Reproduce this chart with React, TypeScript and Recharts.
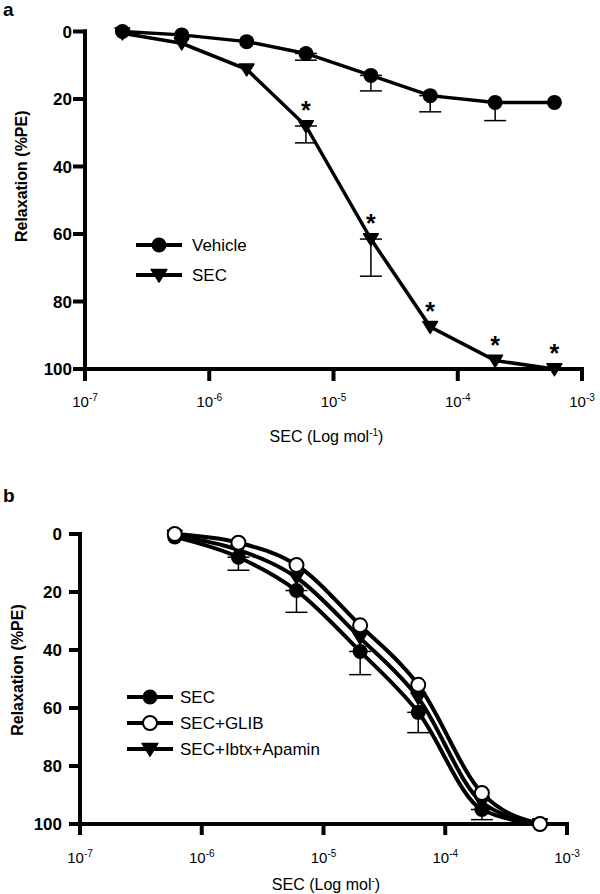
import { LineChart, Line, XAxis, YAxis, ErrorBar, Legend, LabelList, Label } from "recharts"

const FONT = '"Liberation Sans", Arial, sans-serif'

// shared axes
const decadeTicks = [1e-7, 1e-6, 1e-5, 1e-4, 1e-3]
const relaxTicks = [0, 20, 40, 60, 80, 100]

// panel a: concentration (mol) and relaxation (%PE), mean and SEM
const concA = [2e-7, 6e-7, 2e-6, 6e-6, 2e-5, 6e-5, 2e-4, 6e-4]
const vehicleMean = [0, 1, 3, 6.5, 13, 19, 21, 21]
const vehicleSem = [0, 0, 0, 2, 4.6, 4.8, 5.4, 0]
const secMeanA = [0.5, 3.5, 11.2, 28, 61.5, 87.5, 97.5, 100]
const secSemA = [0, 0, 0, 5, 11, 0, 0, 0]
const secSigA = ["", "", "", "*", "*", "*", "*", "*"]

// panel b
const concB = [6e-7, 2e-6, 6e-6, 2e-5, 6e-5, 2e-4, 6e-4]
const secMeanB = [1, 8, 19.5, 40.5, 61.5, 95, 100]
const secSemB = [0, 4.5, 7.5, 8, 7, 3.5, 0]
const glibMeanB = [0, 3, 10.7, 31.5, 52, 89.3, 100]
const ibtxMeanB = [0.5, 5.5, 15, 35.8, 56.5, 92.5, 100]

// one-sided bars (drawn below the point only); none when SEM is 0
const oneSided = (sem: number) => (sem > 0 ? [0, sem] : null)

const dataA = concA.map((c, i) => ({
    conc: c,
    vehicle: vehicleMean[i],
    vehicleErr: oneSided(vehicleSem[i]),
    sec: secMeanA[i],
    secErr: oneSided(secSemA[i]),
    sig: secSigA[i],
}))

const dataB = concB.map((c, i) => ({
    conc: c,
    sec: secMeanB[i],
    secErr: oneSided(secSemB[i]),
    glib: glibMeanB[i],
    ibtx: ibtxMeanB[i],
}))

type MarkerKind = "circle" | "open" | "triangle"

const markerOf: Record<string, MarkerKind> = {
    Vehicle: "circle",
    SEC: "triangle",
    "SEC ": "circle",
    "SEC+GLIB": "open",
    "SEC+Ibtx+Apamin": "triangle",
}

const Marker = ({ kind, cx, cy, r }: { kind: MarkerKind; cx: number; cy: number; r: number }) => {
    if (kind === "triangle") {
        const w = r * 1.05
        return (
            <path
                d={`M${cx - w},${cy - r * 0.75} L${cx + w},${cy - r * 0.75} L${cx},${cy + r * 0.95} Z`}
                fill="#000"
                stroke="#000"
                strokeWidth={1.5}
                strokeLinejoin="round"
            />
        )
    }
    if (kind === "open") {
        return <circle cx={cx} cy={cy} r={r - 0.5} fill="#fff" stroke="#000" strokeWidth={2} />
    }
    return <circle cx={cx} cy={cy} r={r} fill="#000" />
}

const dotFor = (kind: MarkerKind, r: number) => (p: any) => (
    <Marker key={`${kind}-${p.index}`} kind={kind} cx={p.cx} cy={p.cy} r={r} />
)

// x tick "10^n"
const powTick = (shift: number) => (p: any) => {
    const exp = Math.round(Math.log10(p.payload.value))
    return (
        <text x={p.x} y={p.y + shift} textAnchor="middle" fontSize={15} fontFamily={FONT} fill="#000">
            10
            <tspan dy={-6} fontSize={10}>{exp}</tspan>
        </text>
    )
}

const relaxTick = (p: any) => (
    <text x={p.x} y={p.y} dy="0.36em" textAnchor="end" fontSize={17} fontWeight="bold" fontFamily={FONT} fill="#000">
        {p.payload.value}
    </text>
)

const yTitle = (dx: number, shift: number) => (p: any) => {
    const vb = p.viewBox
    const x = vb.x + dx
    const y = vb.y + vb.height / 2 + shift
    return (
        <text
            x={x}
            y={y}
            dy="0.36em"
            transform={`rotate(-90 ${x} ${y})`}
            textAnchor="middle"
            fontSize={16}
            fontWeight="bold"
            fontFamily={FONT}
            fill="#000"
        >
            Relaxation (%PE)
        </text>
    )
}

const xTitle = (sup: string, dx: number, base: number) => (p: any) => {
    const vb = p.viewBox
    return (
        <text x={vb.x + vb.width / 2 + dx} y={vb.y + base} textAnchor="middle" fontSize={16} fontFamily={FONT} fill="#000">
            SEC (Log mol
            <tspan dy={-6} fontSize={10}>{sup}</tspan>
            <tspan dy={6}>)</tspan>
        </text>
    )
}

const starLabel = (p: any) => {
    if (!p.value) return null
    return (
        <text x={p.x} y={p.y - 7} textAnchor="middle" fontSize={25} fontWeight="bold" fontFamily={FONT} fill="#000">
            {p.value}
        </text>
    )
}

const legendContent = (order: string[], rowH: number, gap: number) => (props: any) => {
    const payload: any[] = props.payload || []
    const items = order.map((n) => payload.find((e) => e.value === n)).filter(Boolean)
    return (
        <div style={{ fontFamily: FONT, fontSize: 17, color: "#000" }}>
            {items.map((e: any) => (
                <div key={e.value} style={{ display: "flex", alignItems: "center", height: rowH }}>
                    <svg width={48} height={rowH} style={{ display: "block" }}>
                        <line x1={1} x2={47} y1={rowH / 2} y2={rowH / 2} stroke="#000" strokeWidth={4} />
                        <Marker kind={markerOf[e.value]} cx={24} cy={rowH / 2} r={7.5} />
                    </svg>
                    <span style={{ marginLeft: gap, lineHeight: 1 }}>{e.value.trim()}</span>
                </div>
            ))}
        </div>
    )
}

const axisStroke = { stroke: "#000", strokeWidth: 4, strokeLinecap: "square" as const }

export default function App() {
    return (
        <div style={{ position: "absolute", left: 0, top: 0, width: 600, height: 894, background: "#fff", fontFamily: FONT }}>
            <div style={{ position: "absolute", left: 3, top: 0, fontSize: 19, lineHeight: "19px", fontWeight: "bold" }}>a</div>
            <div style={{ position: "absolute", left: 3, top: 486, fontSize: 19, lineHeight: "19px", fontWeight: "bold" }}>b</div>

            <div style={{ position: "absolute", left: 0, top: 0 }}>
                <LineChart width={600} height={450} data={dataA} margin={{ top: 31.5, right: 18, bottom: 0, left: 0 }}>
                    <XAxis
                        dataKey="conc"
                        type="number"
                        scale="log"
                        domain={[1e-7, 1e-3]}
                        ticks={decadeTicks}
                        height={81}
                        tickSize={10}
                        tickMargin={2}
                        axisLine={axisStroke}
                        tickLine={axisStroke}
                        tick={powTick(26)}
                    >
                        <Label content={xTitle("-1", -7, 73)} />
                    </XAxis>
                    <YAxis
                        type="number"
                        reversed
                        domain={[0, 100]}
                        ticks={relaxTicks}
                        width={85}
                        tickSize={10}
                        tickMargin={3}
                        axisLine={axisStroke}
                        tickLine={axisStroke}
                        tick={relaxTick}
                    >
                        <Label content={yTitle(21.5, -24)} />
                    </YAxis>
                    <Legend
                        layout="vertical"
                        align="center"
                        verticalAlign="middle"
                        wrapperStyle={{ left: 135, top: 230, width: 250 }}
                        content={legendContent(["Vehicle", "SEC"], 30, 9)}
                    />
                    <Line
                        name="Vehicle"
                        dataKey="vehicle"
                        stroke="#000"
                        strokeWidth={3.5}
                        dot={dotFor("circle", 7.5)}
                        isAnimationActive={false}
                    >
                        <ErrorBar dataKey="vehicleErr" direction="y" width={11} stroke="#000" strokeWidth={1.5} />
                    </Line>
                    <Line
                        name="SEC"
                        dataKey="sec"
                        stroke="#000"
                        strokeWidth={3.5}
                        dot={dotFor("triangle", 7)}
                        isAnimationActive={false}
                    >
                        <ErrorBar dataKey="secErr" direction="y" width={11} stroke="#000" strokeWidth={1.5} />
                        <LabelList dataKey="sig" content={starLabel} />
                    </Line>
                </LineChart>
            </div>

            <div style={{ position: "absolute", left: 0, top: 450 }}>
                <LineChart width={600} height={444} data={dataB} margin={{ top: 84, right: 33, bottom: 0, left: 0 }}>
                    <XAxis
                        dataKey="conc"
                        type="number"
                        scale="log"
                        domain={[1e-7, 1e-3]}
                        ticks={decadeTicks}
                        height={70}
                        tickSize={9}
                        tickMargin={2}
                        axisLine={axisStroke}
                        tickLine={axisStroke}
                        tick={powTick(28)}
                    >
                        <Label content={xTitle("-", 2.5, 66)} />
                    </XAxis>
                    <YAxis
                        type="number"
                        reversed
                        domain={[0, 100]}
                        ticks={relaxTicks}
                        width={80}
                        tickSize={9}
                        tickMargin={9}
                        axisLine={axisStroke}
                        tickLine={axisStroke}
                        tick={relaxTick}
                    >
                        <Label content={yTitle(17, -9)} />
                    </YAxis>
                    <Legend
                        layout="vertical"
                        align="center"
                        verticalAlign="middle"
                        wrapperStyle={{ left: 126, top: 234, width: 300 }}
                        content={legendContent(["SEC ", "SEC+GLIB", "SEC+Ibtx+Apamin"], 26, 6)}
                    />
                    <Line
                        name="SEC "
                        dataKey="sec"
                        type="monotone"
                        stroke="#000"
                        strokeWidth={4}
                        dot={dotFor("circle", 7.5)}
                        isAnimationActive={false}
                    >
                        <ErrorBar dataKey="secErr" direction="y" width={11} stroke="#000" strokeWidth={1.5} />
                    </Line>
                    <Line
                        name="SEC+Ibtx+Apamin"
                        dataKey="ibtx"
                        type="monotone"
                        stroke="#000"
                        strokeWidth={4}
                        dot={dotFor("triangle", 7)}
                        isAnimationActive={false}
                    />
                    <Line
                        name="SEC+GLIB"
                        dataKey="glib"
                        type="monotone"
                        stroke="#000"
                        strokeWidth={4}
                        dot={dotFor("open", 7.5)}
                        isAnimationActive={false}
                    />
                </LineChart>
            </div>
        </div>
    )
}
